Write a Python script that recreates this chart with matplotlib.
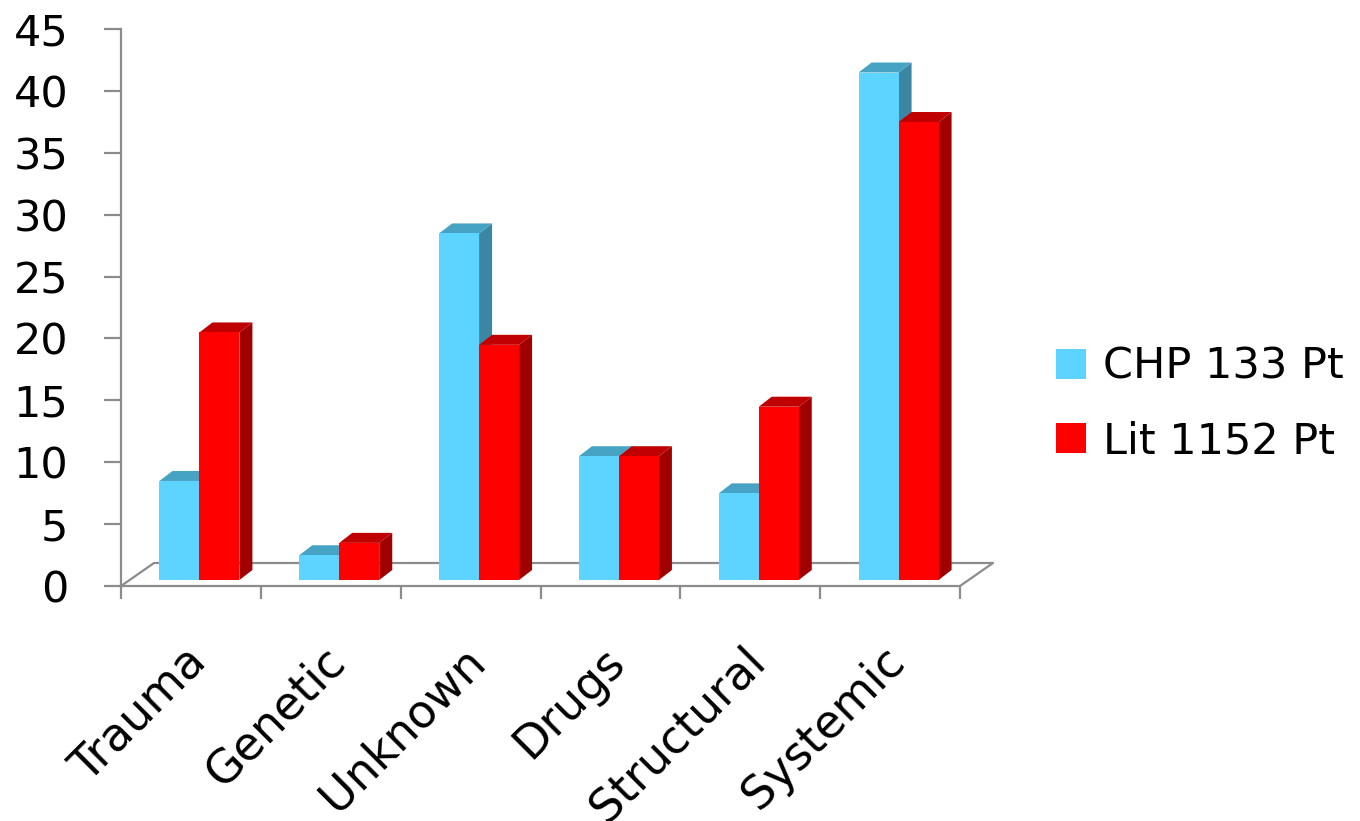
#!/usr/bin/env python
#-*- coding:utf-8 -*-
"""
Grouped pseudo-3D bar chart: aetiology, CHP cohort vs literature
"""

# =============================================================================
# IMPORTS
# =============================================================================
import numpy as np
import matplotlib
matplotlib.use('Agg')
import matplotlib.pyplot as plt
from matplotlib.patches import Polygon, Patch
from matplotlib.transforms import ScaledTranslation

# =============================================================================
# DATA
# =============================================================================
categories = ['Trauma', 'Genetic', 'Unknown', 'Drugs', 'Structural', 'Systemic']
chp_values = [8, 2, 28, 10, 7, 41]
lit_values = [20, 3, 19, 10, 14, 37]
series_names = ['CHP 133 Pt', 'Lit 1152 Pt']
y_ticks = list(range(0, 50, 5))

# =============================================================================
# STYLE
# =============================================================================
# (front, top, side) colours for each series
colours = [('#5DD4FF', '#47A3C4', '#3B87A3'),
           ('#FF0000', '#C00000', '#A00000')]
grey = '#8C8C8C'
fs = 31

W, H = 1360, 821
px_cat = (960 - 121) / 6.0       # pixels per category
px_val = (586 - 29) / 45.0       # pixels per unit

floor_dx = 33 / px_cat           # floor depth in data units
floor_dy = 23 / px_val
base_dx = 8.5 / px_cat           # bars stand slightly behind the front edge
base_dy = 6 / px_val
bar_dx = 13 / px_cat             # bar depth
bar_dy = 10 / px_val
bar_w = 40 / px_cat

# =============================================================================
# CODE
# =============================================================================
f = plt.figure(figsize=(W / 100., H / 100.), dpi=100)
ax = f.add_axes([121. / W, (H - 586.) / H, (960. - 121.) / W, (586. - 29.) / H])
ax.set_xlim(-0.5, 5.5)
ax.set_ylim(0, 45)

# floor outline
x0, x1 = -0.5, 5.5
ax.plot([x0, x0 + floor_dx, x1 + floor_dx, x1], [0, floor_dy, floor_dy, 0],
        color=grey, lw=1.6, clip_on=False, zorder=1)

def draw_bar(xl, val, cols):
    front, top, side = cols
    xr = xl + bar_w
    b = base_dy
    t = base_dy + val
    ax.add_patch(Polygon([(xr, b), (xr + bar_dx, b + bar_dy), (xr + bar_dx, t + bar_dy), (xr, t)],
                         closed=True, fc=side, ec='none', clip_on=False, zorder=3))
    ax.add_patch(Polygon([(xl, t), (xr, t), (xr + bar_dx, t + bar_dy), (xl + bar_dx, t + bar_dy)],
                         closed=True, fc=top, ec='none', clip_on=False, zorder=3))
    ax.add_patch(Polygon([(xl, b), (xr, b), (xr, t), (xl, t)],
                         closed=True, fc=front, ec='none', clip_on=False, zorder=3))

for i in range(len(categories)):
    c = i + base_dx
    draw_bar(c - bar_w, chp_values[i], colours[0])
    draw_bar(c, lit_values[i], colours[1])

# axes
for s in ['top', 'right']:
    ax.spines[s].set_visible(False)
for s in ['left', 'bottom']:
    ax.spines[s].set_color(grey)
    ax.spines[s].set_linewidth(1.6)

ax.set_yticks(y_ticks)
ax.set_yticklabels([str(v) for v in y_ticks], fontsize=fs)
ax.tick_params(axis='y', direction='out', length=12, width=1.6, color=grey, pad=26)

ax.set_xticks(np.arange(-0.5, 6, 1.0), minor=True)
ax.tick_params(axis='x', which='minor', direction='out', length=9, width=1.6, color=grey)
ax.set_xticks(np.arange(len(categories)))
ax.set_xticklabels(categories, fontsize=33, rotation=45, ha='right', va='top',
                   rotation_mode='anchor')
ax.tick_params(axis='x', which='major', length=0, pad=38)
off = ScaledTranslation(-8 / 100., 0, f.dpi_scale_trans)
for lab in ax.get_xticklabels():
    lab.set_transform(lab.get_transform() + off)

# legend
handles = [Patch(fc=colours[k][0], ec='none') for k in range(2)]
f.legend(handles, series_names, loc='center left', bbox_to_anchor=(1017. / W, (H - 404.) / H),
         frameon=False, fontsize=fs, handlelength=0.7, handleheight=0.7,
         handletextpad=0.4, labelspacing=0.75)

plt.savefig('out.png', dpi=100)
plt.close()
